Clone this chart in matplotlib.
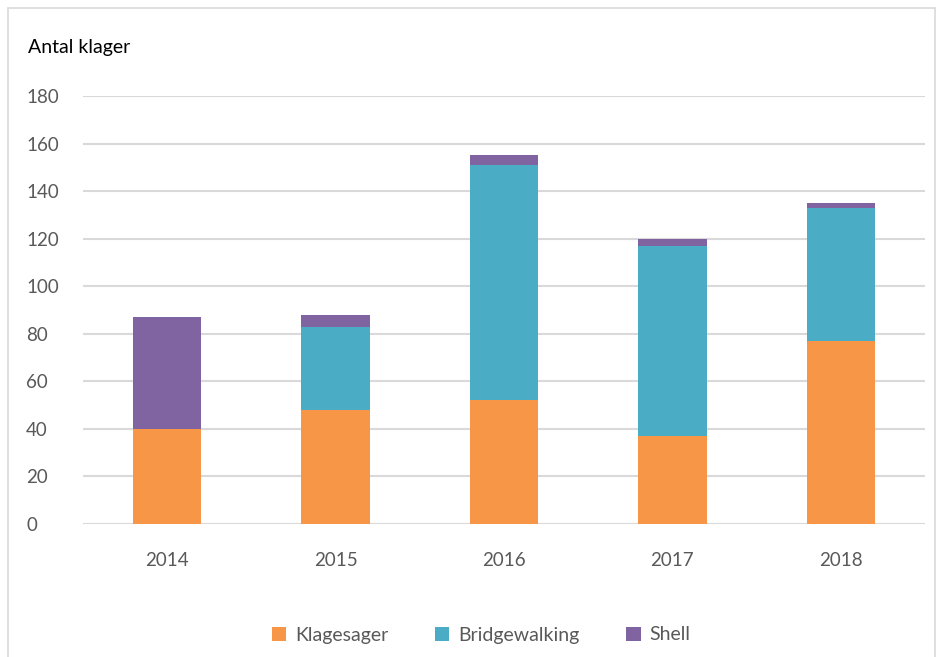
import matplotlib.pyplot as plt
from matplotlib.patches import Rectangle

# --- DATA ---
years = ["2014", "2015", "2016", "2017", "2018"]
klagesager = [40, 48, 52, 37, 77]
bridgewalking = [0, 35, 99, 80, 56]
shell = [47, 5, 4, 3, 2]

ORANGE = "#F79646"
BLUE = "#4BACC6"
PURPLE = "#8064A2"
GRAY_TXT = "#595959"

plt.rcParams["font.family"] = ["Lato", "DejaVu Sans"]

fig = plt.figure(figsize=(9.42, 6.57), dpi=100)
ax = fig.add_axes([83 / 942, 1 - 524 / 657, 842 / 942, 428 / 657])

x = list(range(len(years)))
w = 0.405
bottom2 = klagesager
bottom3 = [a + b for a, b in zip(klagesager, bridgewalking)]

ax.bar(x, klagesager, w, color=ORANGE, label="Klagesager", zorder=3)
ax.bar(x, bridgewalking, w, bottom=bottom2, color=BLUE, label="Bridgewalking", zorder=3)
ax.bar(x, shell, w, bottom=bottom3, color=PURPLE, label="Shell", zorder=3)

ax.set_xlim(-0.5, len(years) - 0.5)
ax.set_ylim(0, 180)
ax.set_yticks(range(0, 181, 20))
ax.set_xticks(x)
ax.set_xticklabels(years)
ax.grid(axis="y", color="#D9D9D9", linewidth=1.5, zorder=0)
for s in ax.spines.values():
    s.set_visible(False)
ax.tick_params(axis="both", length=0, labelsize=13.5, colors=GRAY_TXT)
ax.tick_params(axis="y", pad=41)
ax.tick_params(axis="x", pad=20)
for lbl in ax.get_yticklabels():
    lbl.set_horizontalalignment("left")

fig.text(28 / 942, 1 - 48 / 657, "Antal klager", fontsize=14, color="black",
         va="center", ha="left")

leg = fig.legend(loc="center", bbox_to_anchor=(481 / 942, 1 - 635 / 657), ncol=3,
                 frameon=False, fontsize=14, handlelength=0.75, handleheight=0.75,
                 columnspacing=2.4, handletextpad=0.45)
for t in leg.get_texts():
    t.set_color(GRAY_TXT)

# chart border
fig.patches.append(Rectangle((8 / 942, -0.01), 927 / 942, 1 - 8 / 657 + 0.01,
                             transform=fig.transFigure, fill=False,
                             edgecolor="#D9D9D9", linewidth=1.2))

fig.savefig("out.png", dpi=100, facecolor="white")
